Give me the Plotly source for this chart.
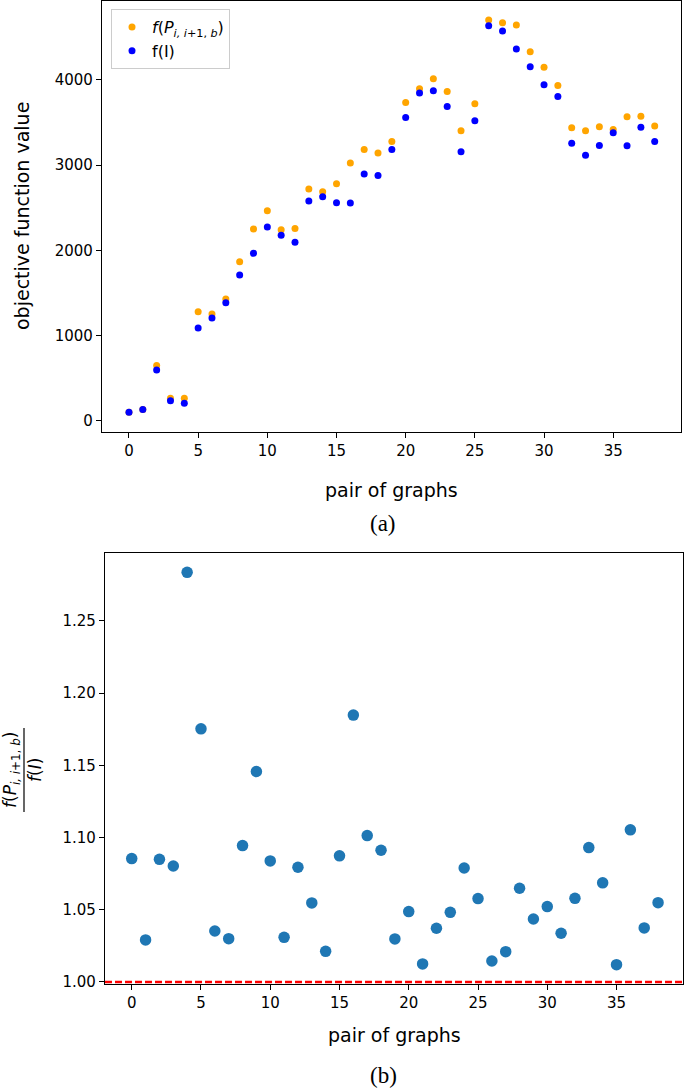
import plotly.graph_objects as go

pairs = list(range(39))
f_P = [100, 130, 649, 262, 262, 1279, 1252, 1428, 1866, 2249, 2465, 2242, 2257, 2719, 2688, 2781,
       3024, 3184, 3141, 3278, 3736, 3896, 4014, 3865, 3404, 3720, 4702, 4671, 4644, 4331, 4147,
       3935, 3439, 3404, 3450, 3419, 3568, 3572, 3458]
f_I = [100, 130, 595, 235, 203, 1088, 1205, 1385, 1710, 1964, 2273, 2175, 2093, 2578, 2629, 2558,
       2555, 2895, 2879, 3184, 3560, 3846, 3873, 3689, 3157, 3521, 4636, 4573, 4362, 4155, 3943,
       3806, 3255, 3114, 3231, 3380, 3227, 3443, 3278]
ratio = [1.0854, 1.0291, 1.0849, 1.0803, 1.2835, 1.1752, 1.0353, 1.0300, 1.0944, 1.1457, 1.0838,
         1.0309, 1.0794, 1.0547, 1.0212, 1.0873, 1.1847, 1.1013, 1.0912, 1.0298, 1.0487, 1.0125,
         1.0372, 1.0482, 1.0789, 1.0577, 1.0145, 1.0210, 1.0649, 1.0436, 1.0522, 1.0337, 1.0579,
         1.0930, 1.0686, 1.0120, 1.1053, 1.0374, 1.0549]
x_ticks = [0, 5, 10, 15, 20, 25, 30, 35]
y1_ticks = [0, 1000, 2000, 3000, 4000]
y2_ticks = [1.00, 1.05, 1.10, 1.15, 1.20, 1.25]

W, H = 685, 1089
def px(x):
    return x / W
def py(y):
    return 1 - y / H

fig = go.Figure()
fig.add_trace(go.Scatter(x=pairs, y=f_P, mode="markers", name="<i>f</i>(<i>P</i><sub><i>i, i</i>+1, <i>b</i></sub>)",
                         marker=dict(color="#FFA500", size=7), xaxis="x", yaxis="y"))
fig.add_trace(go.Scatter(x=pairs, y=f_I, mode="markers", name="f(I)",
                         marker=dict(color="#0000FF", size=7), xaxis="x", yaxis="y"))
fig.add_trace(go.Scatter(x=pairs, y=ratio, mode="markers", showlegend=False,
                         marker=dict(color="#1f77b4", size=11.5), xaxis="x2", yaxis="y2"))

fig.add_shape(type="line", xref="x2 domain", yref="y2", x0=0, x1=1, y0=1.0, y1=1.0,
              line=dict(color="#FF0000", width=2.4, dash="7px,3px"))

axis_common = dict(showline=True, linecolor="black", linewidth=1.3, mirror=True, showgrid=False,
                   zeroline=False, ticks="outside", ticklen=5, tickwidth=1.1, tickcolor="black",
                   automargin=False,
                   tickfont=dict(family="DejaVu Sans", size=15, color="black"))

fig.update_layout(
    width=W, height=H, margin=dict(l=0, r=0, t=0, b=0, autoexpand=False),
    paper_bgcolor="white", plot_bgcolor="white",
    xaxis=dict(domain=[px(102), px(681)], range=[-1.95, 39.9], tickvals=x_ticks, anchor="y", **axis_common),
    yaxis=dict(domain=[py(432), py(1)], range=[-133, 4926], tickvals=y1_ticks, anchor="x", **axis_common),
    xaxis2=dict(domain=[px(105), px(683)], range=[-1.93, 39.8], tickvals=x_ticks, anchor="y2", **axis_common),
    yaxis2=dict(domain=[py(984), py(553)], range=[0.9986, 1.2969], tickvals=y2_ticks, tickformat=".2f",
                anchor="x2", **axis_common),
    legend=dict(x=px(111), y=py(9), xanchor="left", yanchor="top", bgcolor="white",
                bordercolor="#cccccc", borderwidth=1, font=dict(family="DejaVu Sans", size=16, color="black"),
                itemsizing="trace"),
    showlegend=True,
)

ann = []
font_lbl = dict(family="DejaVu Sans", size=19, color="black")
ann.append(dict(text="pair of graphs", x=(px(102) + px(681)) / 2, y=py(490), xref="paper", yref="paper",
                showarrow=False, font=font_lbl, xanchor="center", yanchor="middle"))
ann.append(dict(text="pair of graphs", x=(px(105) + px(683)) / 2, y=py(1035), xref="paper", yref="paper",
                showarrow=False, font=font_lbl, xanchor="center", yanchor="middle"))
ann.append(dict(text="objective function value", x=px(22), y=py(216), xref="paper", yref="paper",
                showarrow=False, font=font_lbl, textangle=-90, xanchor="center", yanchor="middle"))
ann.append(dict(text="(a)", x=px(383), y=py(523), xref="paper", yref="paper", showarrow=False,
                font=dict(family="Liberation Serif", size=23, color="black"), xanchor="center", yanchor="middle"))
ann.append(dict(text="(b)", x=px(383), y=py(1075), xref="paper", yref="paper", showarrow=False,
                font=dict(family="Liberation Serif", size=23, color="black"), xanchor="center", yanchor="middle"))
# fraction y-label for bottom plot
ann.append(dict(text="<i>f</i>(<i>P</i><sub><i>i, i</i>+1, <i>b</i></sub>)", x=px(11), y=py(770),
                xref="paper", yref="paper", showarrow=False, font=dict(family="DejaVu Sans", size=17, color="black"),
                textangle=-90, xanchor="center", yanchor="middle"))
ann.append(dict(text="<i>f</i>(<i>I</i>)", x=px(35), y=py(770), xref="paper", yref="paper", showarrow=False,
                font=dict(family="DejaVu Sans", size=17, color="black"), textangle=-90,
                xanchor="center", yanchor="middle"))
fig.update_layout(annotations=ann)
fig.add_shape(type="line", xref="paper", yref="paper", x0=px(24), x1=px(24), y0=py(728), y1=py(812),
              line=dict(color="black", width=1.2))

fig.write_html("out.html", config={"displayModeBar": False},
               post_script="document.body.style.margin='0px';document.body.style.overflow='hidden';")
